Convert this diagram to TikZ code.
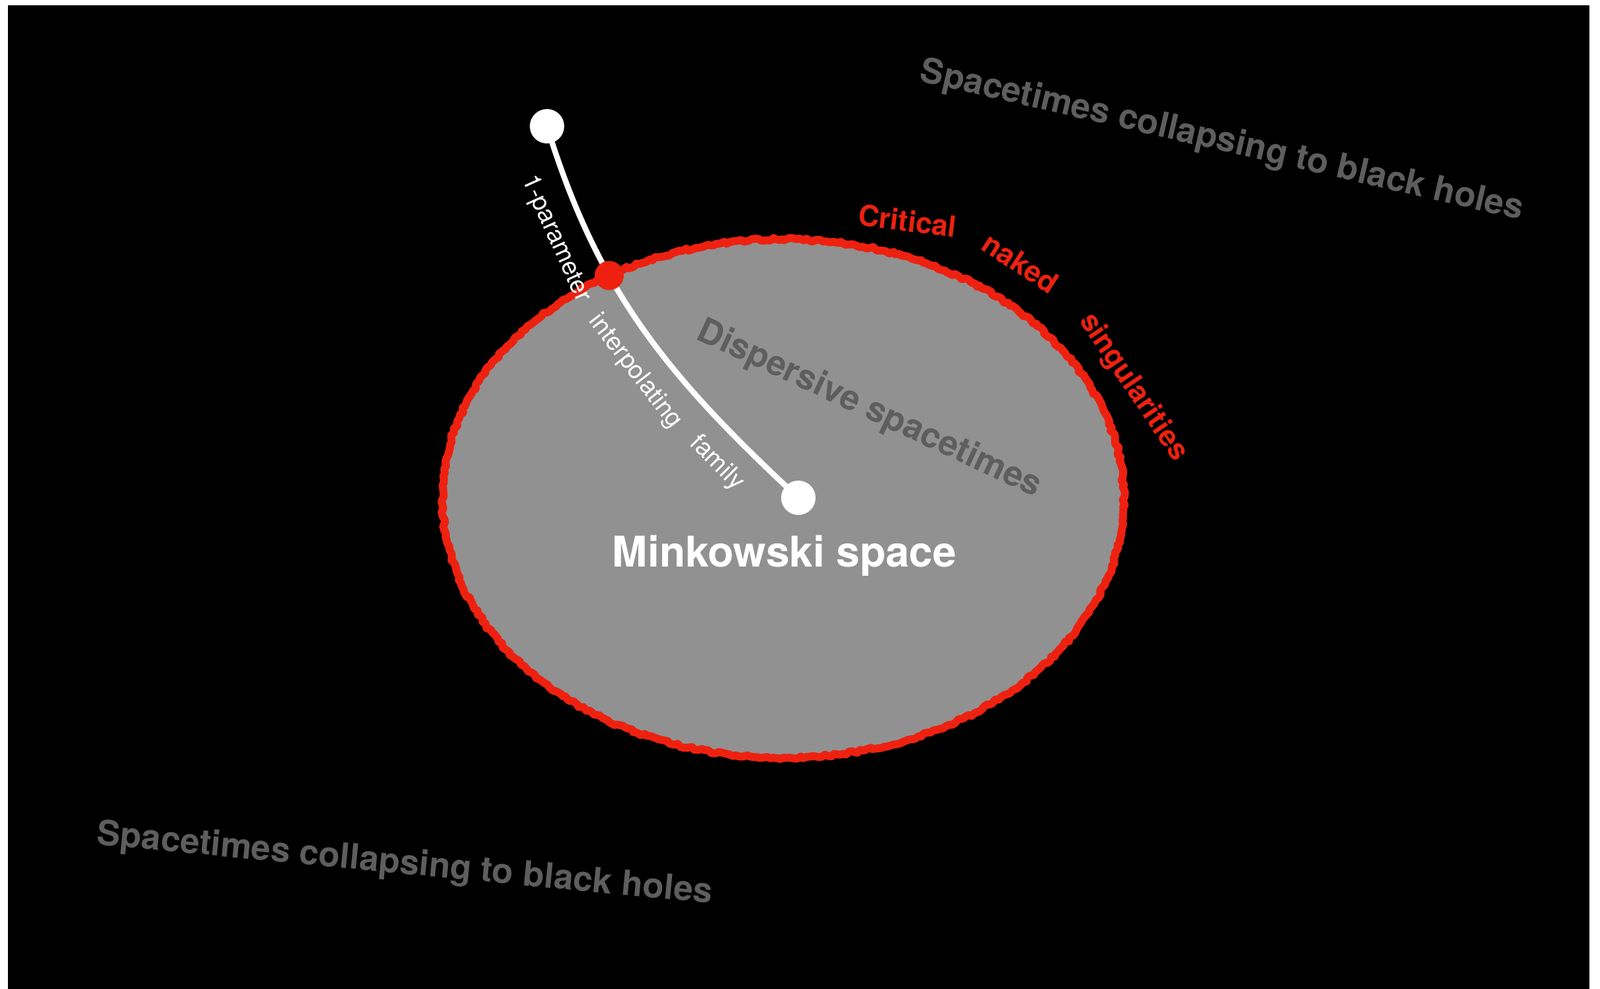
\documentclass[tikz,border=0pt]{standalone}
\usepackage{fontspec}
\setmainfont{TeX Gyre Heros}
\usepackage{xcolor}
\usetikzlibrary{decorations.pathmorphing,intersections}

\definecolor{critred}{RGB}{238,33,16}
\definecolor{diskgray}{RGB}{145,145,145}
\definecolor{labelgray}{RGB}{94,94,94}

\begin{document}
\begin{tikzpicture}[
  dot/.style={circle, fill=white, inner sep=0pt, minimum size=0.52cm},
  critdot/.style={circle, fill=critred, inner sep=0pt, minimum size=0.44cm},
  bhlabel/.style={font=\bfseries\fontsize{15}{18}\selectfont, text=labelgray},
  critlabel/.style={font=\bfseries\fontsize{12.5}{15}\selectfont, text=critred},
  famlabel/.style={font=\fontsize{10.8}{13}\selectfont, text=white, sloped, below=5pt}
]

% Background
\fill[white] (0,0) rectangle (24.19,14.96);
\fill[black] (0.12,0) rectangle (24.03,14.88);

% Disk
\fill[diskgray] (11.84,7.42) ellipse (5.15 and 3.92);
\path[name path=rim] (11.84,7.42) ellipse (5.15 and 3.92);

% Rough red rim
\draw[critred, line width=3.4pt, line join=round, decorate,
  decoration={random steps, segment length=1.5pt, amplitude=0.6pt}]
  (11.84,7.42) ellipse (5.15 and 3.92);

% Region labels
\node[bhlabel, rotate=-13] (bhtop) at (18.47,12.82) {Spacetimes collapsing to black holes};
\node[bhlabel, rotate=-5.5] (bhbottom) at (6.12,1.88) {Spacetimes collapsing to black holes};
\node[bhlabel, rotate=-25, anchor=base] (disp) at (13.08,8.64) {Dispersive spacetimes};

% Critical labels
\node[critlabel, rotate=-7] (crit) at (13.72,11.62) {Critical};
\node[critlabel, rotate=-33] (naked) at (15.43,10.98) {naked};
\node[critlabel, rotate=-56] (sing) at (17.13,9.10) {singularities};

% Family curve
\coordinate (start) at (8.27,13.05);
\coordinate (mink) at (12.07,7.43);
\draw[white, line width=2.4pt, name path=family] (start) to[out=-73,in=137] (mink);
\path[name intersections={of=family and rim, by=hit}];

% Dots
\node[dot] (startdot) at (start) {};
\node[dot] (minkdot) at (mink) {};
\node[critdot] (hitdot) at (hit) {};

% Family label
\path (start) to[out=-73,in=137]
  node[famlabel, pos=0.22] (fam1) {1-parameter}
  node[famlabel, pos=0.565] (fam2) {interpolating}
  node[famlabel, pos=0.835] (fam3) {family} (mink);

% Label
\node[font=\bfseries\fontsize{18.2}{22}\selectfont, text=white, anchor=base] (minklabel)
  at (11.86,6.38) {Minkowski space};

\end{tikzpicture}
\end{document}
